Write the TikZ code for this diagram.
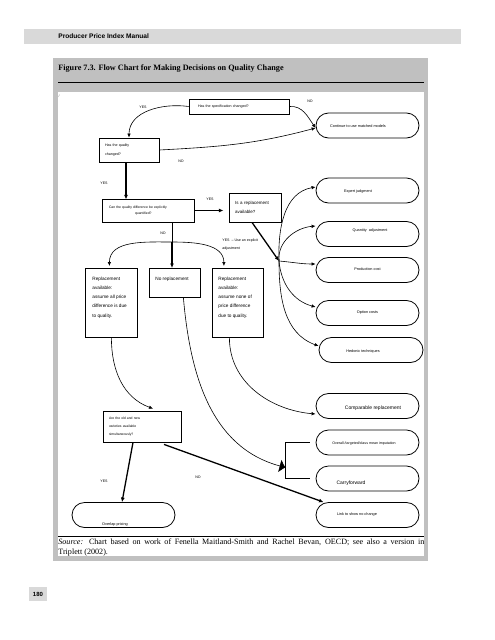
\documentclass[tikz,border=0pt]{standalone}
\usepackage{fontspec}
\setmainfont{Liberation Serif}
\setsansfont{Liberation Sans}
\usetikzlibrary{arrows.meta,shapes.misc}
\definecolor{hdrgray}{HTML}{D9D9D9}
\definecolor{framegray}{HTML}{C0C0C0}
\newcommand\off[3]{\raisebox{#2}[0pt][0pt]{\makebox[0pt]{\hspace*{#1}#3\hspace*{-#1}}}}
\begin{document}
\begin{tikzpicture}[x=1pt,y=-1pt,line width=0.7pt,
      qbox/.style={draw,rectangle,line width=0.8pt,inner ysep=0pt,align=left,
        font=\sffamily\fontsize{3.6}{8.3}\selectfont},
      rbox/.style={draw,rectangle,line width=0.8pt,inner sep=0pt,anchor=north west,
        font=\sffamily\fontsize{4.7}{9.2}\selectfont},
      term/.style={draw,rounded rectangle,line width=0.8pt,minimum width=103pt,
        minimum height=25pt,inner sep=0pt,font=\sffamily\fontsize{3.8}{5}\selectfont},
      flow/.style={line width=0.6pt,-{Latex[length=4pt,width=3.5pt]}},
      heavyflow/.style={line width=1.3pt,-{Latex[length=4.5pt,width=4pt]}},
      lbl/.style={inner sep=0pt,font=\sffamily\fontsize{3.6}{8}\selectfont}]
    \useasboundingbox (0,0) rectangle (495,640);
    \fill[white] (0,0) rectangle (495,640);
    \fill[hdrgray] (24,29) rectangle (461,44);
    \node[anchor=west,inner sep=0pt,font=\sffamily\bfseries\fontsize{6.6}{8}\selectfont] at (58,36.5) (hdr) {Producer Price Index Manual};
    \fill[framegray] (53,58) rectangle (428,561);
    \fill[white] (58,92) rectangle (424,556);
    \node[anchor=west,inner sep=0pt,font=\bfseries\fontsize{8.2}{10}\selectfont] at (58,68.5) (title) {Figure 7.3. Flow Chart for Making Decisions on Quality Change};
    \draw[line width=0.8pt] (58,82) -- (424,82);
    \draw[line width=0.8pt] (58,536) -- (424,536);
    \node[anchor=north west,inner sep=0pt,text width=366pt,align=justify,font=\fontsize{8.1}{10}\selectfont] at (58,538) (src)
      {\textit{Source:} Chart based on work of Fenella Maitland-Smith and Rachel Bevan, OECD; see also a version in\linebreak Triplett (2002).};
    \fill[hdrgray] (29,587) rectangle (47,601);
    \node[font=\sffamily\bfseries\fontsize{6}{7}\selectfont] at (38,594) (pg) {180};
    \node[lbl,text=black!60] at (59,96) (tick) {/};

    \node[qbox,minimum height=15pt,text width=82pt,inner xsep=9pt] at (239,106.5) (A0) {Has the specification changed?};
    \node[qbox,minimum height=24pt,text width=48pt,inner xsep=6pt] at (129,150) (A1) {Has the quality\\changed?};
    \node[qbox,minimum height=23pt,text width=78pt,inner xsep=7pt,font=\sffamily\fontsize{3.4}{6}\selectfont] at (148,210.5) (A2)
      {Can the quality difference be explicitly\\\hspace*{26pt}quantified?};
    \node[qbox,minimum height=29pt,text width=40pt,inner xsep=6pt,font=\sffamily\fontsize{4.5}{9}\selectfont] at (255,207.5) (A3) {Is a replacement\\available?};

    \node[rbox,minimum width=52pt,minimum height=69pt] at (85,268) (B0)
      {\parbox[c][52pt][t]{38pt}{Replacement\\available:\\assume all price\\difference is due\\to quality.}};
    \node[rbox,minimum width=51pt,minimum height=29pt] at (149,268) (B1)
      {\parbox[c][12pt][t]{39pt}{No replacement}};
    \node[rbox,minimum width=51pt,minimum height=69pt] at (212,268) (B2)
      {\parbox[c][52pt][t]{39pt}{Replacement\\available:\\assume none of\\price difference\\due to quality.}};
    \node[qbox,minimum height=31pt,text width=66pt,inner xsep=6pt,font=\sffamily\fontsize{3.4}{8.3}\selectfont] at (142,426.5) (C0)
      {Are the old and new\\varieties available\\simultaneously?};

    \node[term] at (367.5,125.5) (D0) {\off{-9.5pt}{-1.7pt}{Continue to use matched models}};
    \node[term] at (367.5,190.5) (E0) {\off{-9.5pt}{-1.7pt}{Expert judgment}};
    \node[term] at (367.5,234) (E1) {\off{2.5pt}{2.8pt}{Quantity\ \ adjustment}};
    \node[term] at (367.5,270) (E2) {\off{0pt}{-0.2pt}{Production cost}};
    \node[term] at (367.5,313) (E3) {\off{0pt}{-0.2pt}{Option costs}};
    \node[term,minimum width=104pt] at (371,350) (E4) {\off{-8pt}{-2.2pt}{Hedonic techniques}};
    \node[term,font=\sffamily\fontsize{5}{6}\selectfont] at (367.5,406) (G0) {\off{5.5pt}{-3.5pt}{Comparable replacement}};
    \node[term,font=\sffamily\fontsize{3.6}{5}\selectfont] at (367.5,442.5) (F0) {\off{-3.5pt}{-1.7pt}{Overall /targeted/class mean imputation}};
    \node[term,font=\sffamily\fontsize{5}{6}\selectfont] at (367.5,478.5) (F1) {\off{-16.5pt}{-6pt}{Carryforward}};
    \node[term] at (367.5,515) (L0) {\off{-10.5pt}{-0.2pt}{Link to show no change}};
    \node[term] at (123.5,515) (H0) {\off{-8.5pt}{-10.2pt}{Overlap pricing}};

    \node[lbl] at (143,107) (y1) {YES};
    \node[lbl] at (310,101) (n1) {NO};
    \node[lbl] at (181,161) (n2) {NO};
    \node[lbl] at (104,183) (y2) {YES};
    \node[lbl] at (210,199) (y3) {YES};
    \node[lbl] at (163,233) (n3) {NO};
    \node[lbl,anchor=north west,align=left] at (222,238.5) (y4) {YES\ \ -- Use an explicit\\adjustment};
    \node[lbl] at (104,481) (y5) {YES};
    \node[lbl] at (198,477) (n4) {NO};

    \draw[flow] (A0.west) to[out=172,in=90] (A1.north);
    \draw[flow] (A0.east) to[out=5,in=125] ([yshift=-2.5pt]D0.west);
    \draw[flow] (A1.east) to[out=3,in=195] ([yshift=-2.5pt]D0.west);
    \draw[heavyflow] ([xshift=-3pt]A1.south) -- ++(0,37);
    \draw[heavyflow] (A2.east) -- ++(29,0);

    \coordinate (br) at (172,242);
    \draw (A2.south -| br) -- (br);
    \draw[heavyflow] (br) -- (br |- B1.north);
    \draw[flow] (br) to[out=180,in=90] ([xshift=-2pt,yshift=2pt]B0.south |- B0.north);
    \draw[flow] (br) to[out=0,in=90] ([xshift=-14pt,yshift=2pt]B2.south |- B2.north);

    \coordinate (hub) at (279,261);
    \draw[heavyflow] ([xshift=-3pt]A3.south) -- (hub);
    \draw[flow] (hub) to[out=92,in=190] ([yshift=3.5pt]E0.west);
    \draw[flow] (hub) to[out=95,in=185] ([yshift=8pt]E1.west);
    \draw[flow] (hub) to[out=-5,in=180] ([yshift=6pt]E2.west);
    \draw[flow] (hub) to[out=-85,in=165] ([yshift=6pt]E3.west);
    \draw[flow] (hub) to[out=-90,in=160] ([yshift=4pt]E4.west);

    \draw[flow] (B0.south) to[out=-90,in=160] ([xshift=11pt,yshift=2pt]C0.north);
    \draw[flow] ([xshift=-8.5pt]B2.south) to[out=-90,in=175] ([yshift=-8pt]G0.west);

    \draw[line width=0.8pt] ([xshift=-6pt]F0.west) -- ++(-24,0) -- ([xshift=-30pt]F1.west) -- ([xshift=-6pt]F1.west);
    \coordinate (brk) at ([xshift=-30pt,yshift=11pt]F1.west);
    \draw[line width=0.6pt,-{Latex[length=6pt,width=13pt]}] ([xshift=8.5pt]B1.south) to[out=-85,in=165] (brk);

    \draw[heavyflow] ([xshift=-9pt]C0.south) -- ([xshift=-1.5pt]H0.north);
    \draw[heavyflow] ([xshift=22pt,yshift=-2pt]C0.south) -- ([xshift=-44pt]L0.north);
  \end{tikzpicture}
\end{document}
